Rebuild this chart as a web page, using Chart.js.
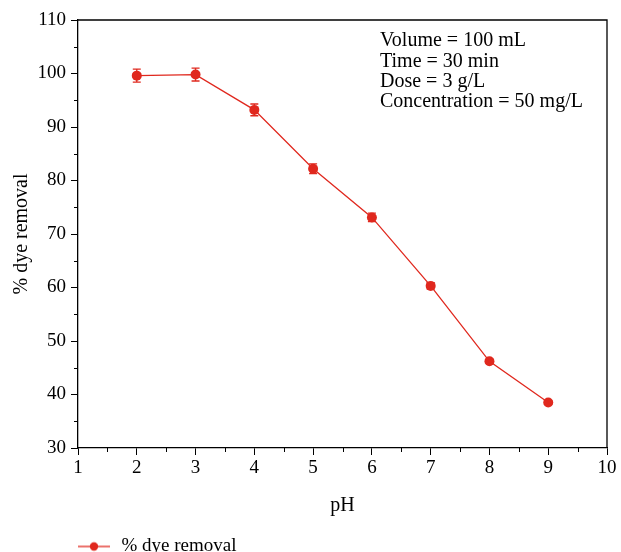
<!DOCTYPE html>
<html>
<head>
<meta charset="utf-8">
<script src="https://cdn.jsdelivr.net/npm/chart.js@4.4.1/dist/chart.umd.min.js"></script>
<style>
html,body{margin:0;padding:0;background:#fff;}
#wrap{width:621px;height:552px;position:relative;}
</style>
</head>
<body>
<div id="wrap"><canvas id="c" width="621" height="552"></canvas></div>
<script>
const pH = [2, 3, 4, 5, 6, 7, 8, 9];
const removal = [99.6, 99.8, 93.2, 82.2, 73.1, 60.3, 46.2, 38.5];
const removalErr = [1.2, 1.2, 1.1, 0.9, 0.8, 0.6, 0.4, 0.3];
const xTicks = [1, 2, 3, 4, 5, 6, 7, 8, 9, 10];
const yTicks = [30, 40, 50, 60, 70, 80, 90, 100, 110];
const infoLines = ["Volume = 100 mL", "Time = 30 min", "Dose = 3 g/L", "Concentration = 50 mg/L"];
const seriesName = "% dye removal";

const RED = '#e0281e';
const FONT = "'Liberation Serif', 'Times New Roman', serif";

// legend symbol: line with dot
const sym = document.createElement('canvas');
sym.width = 32; sym.height = 12;
(function(){
  const g = sym.getContext('2d');
  g.strokeStyle = RED; g.lineWidth = 1.3;
  g.beginPath(); g.moveTo(0, 6); g.lineTo(32, 6); g.stroke();
  g.fillStyle = RED; g.beginPath(); g.arc(16, 6, 4.2, 0, Math.PI*2); g.fill();
})();

const extras = {
  id: 'extras',
  afterLayout(chart) {
    const lg = chart.legend;
    if (lg) { lg.left += 74; lg.right += 74; lg.top += 14; lg.bottom += 14; }
  },
  afterDatasetsDraw(chart) {
    const ctx = chart.ctx, xs = chart.scales.x, ys = chart.scales.y, a = chart.chartArea;
    ctx.save();
    // error bars
    ctx.strokeStyle = RED; ctx.lineWidth = 1.3;
    pH.forEach((x, i) => {
      const px = xs.getPixelForValue(x);
      const y1 = ys.getPixelForValue(removal[i] + removalErr[i]);
      const y2 = ys.getPixelForValue(removal[i] - removalErr[i]);
      ctx.beginPath();
      ctx.moveTo(px, y1); ctx.lineTo(px, y2);
      ctx.moveTo(px - 4, y1); ctx.lineTo(px + 4, y1);
      ctx.moveTo(px - 4, y2); ctx.lineTo(px + 4, y2);
      ctx.stroke();
    });
    // frame top/right
    ctx.strokeStyle = '#000'; ctx.lineWidth = 1.3;
    ctx.beginPath();
    ctx.moveTo(a.left, a.top); ctx.lineTo(a.right, a.top); ctx.lineTo(a.right, a.bottom);
    ctx.stroke();
    // minor ticks
    ctx.lineWidth = 1;
    for (let v = 1.5; v < 10; v += 1) {
      const px = Math.round(xs.getPixelForValue(v)) + 0.5;
      ctx.beginPath(); ctx.moveTo(px, a.bottom); ctx.lineTo(px, a.bottom + 4); ctx.stroke();
    }
    for (let v = 35; v < 110; v += 10) {
      const py = Math.round(ys.getPixelForValue(v)) + 0.5;
      ctx.beginPath(); ctx.moveTo(a.left, py); ctx.lineTo(a.left - 4, py); ctx.stroke();
    }
    // info text
    ctx.fillStyle = '#000';
    ctx.font = "20px " + FONT;
    ctx.textBaseline = 'middle'; ctx.textAlign = 'left';
    infoLines.forEach((t, i) => ctx.fillText(t, 380, 41 + i * 20.3));
    ctx.restore();
  }
};

new Chart(document.getElementById('c'), {
  type: 'line',
  data: {
    datasets: [{
      label: seriesName,
      data: pH.map((x, i) => ({x: x, y: removal[i]})),
      borderColor: RED,
      backgroundColor: RED,
      borderWidth: 1.3,
      pointRadius: 5,
      pointHoverRadius: 5,
      pointBackgroundColor: RED,
      pointBorderWidth: 0,
      tension: 0
    }]
  },
  options: {
    responsive: false,
    animation: false,
    events: [],
    layout: { padding: { top: 20, right: 14, left: 0, bottom: 0 } },
    scales: {
      x: {
        type: 'linear', min: 1, max: 10,
        afterBuildTicks(s) { s.ticks = xTicks.map(v => ({value: v})); },
        afterFit(s) { s.height = 73; },
        grid: { drawOnChartArea: false, tickLength: 7, color: '#000', tickWidth: 1 },
        border: { color: '#000', width: 1.3 },
        ticks: { color: '#000', font: { family: FONT, size: 19 }, padding: 2, maxRotation: 0 },
        title: { display: true, text: 'pH', color: '#000', font: { family: FONT, size: 20 }, padding: { top: 4, bottom: 3 } }
      },
      y: {
        type: 'linear', min: 30, max: 110,
        afterBuildTicks(s) { s.ticks = yTicks.map(v => ({value: v})); },
        afterFit(s) { s.width = 78; },
        grid: { drawOnChartArea: false, tickLength: 7, color: '#000', tickWidth: 1 },
        border: { color: '#000', width: 1.3 },
        ticks: { color: '#000', font: { family: FONT, size: 19 }, padding: 5 },
        title: { display: true, text: '% dye removal', color: '#000', font: { family: FONT, size: 20 }, padding: { top: 10, bottom: 0 } }
      }
    },
    plugins: {
      tooltip: { enabled: false },
      legend: {
        position: 'bottom', align: 'start',
        labels: {
          usePointStyle: true,
          pointStyleWidth: 36,
          padding: 2,
          color: '#000',
          font: { family: FONT, size: 19 },
          generateLabels(chart) {
            return [{ text: seriesName, pointStyle: sym, fillStyle: RED, strokeStyle: RED, lineWidth: 0, datasetIndex: 0, hidden: false, fontColor: '#000' }];
          }
        }
      }
    }
  },
  plugins: [extras]
});
</script>
</body>
</html>
